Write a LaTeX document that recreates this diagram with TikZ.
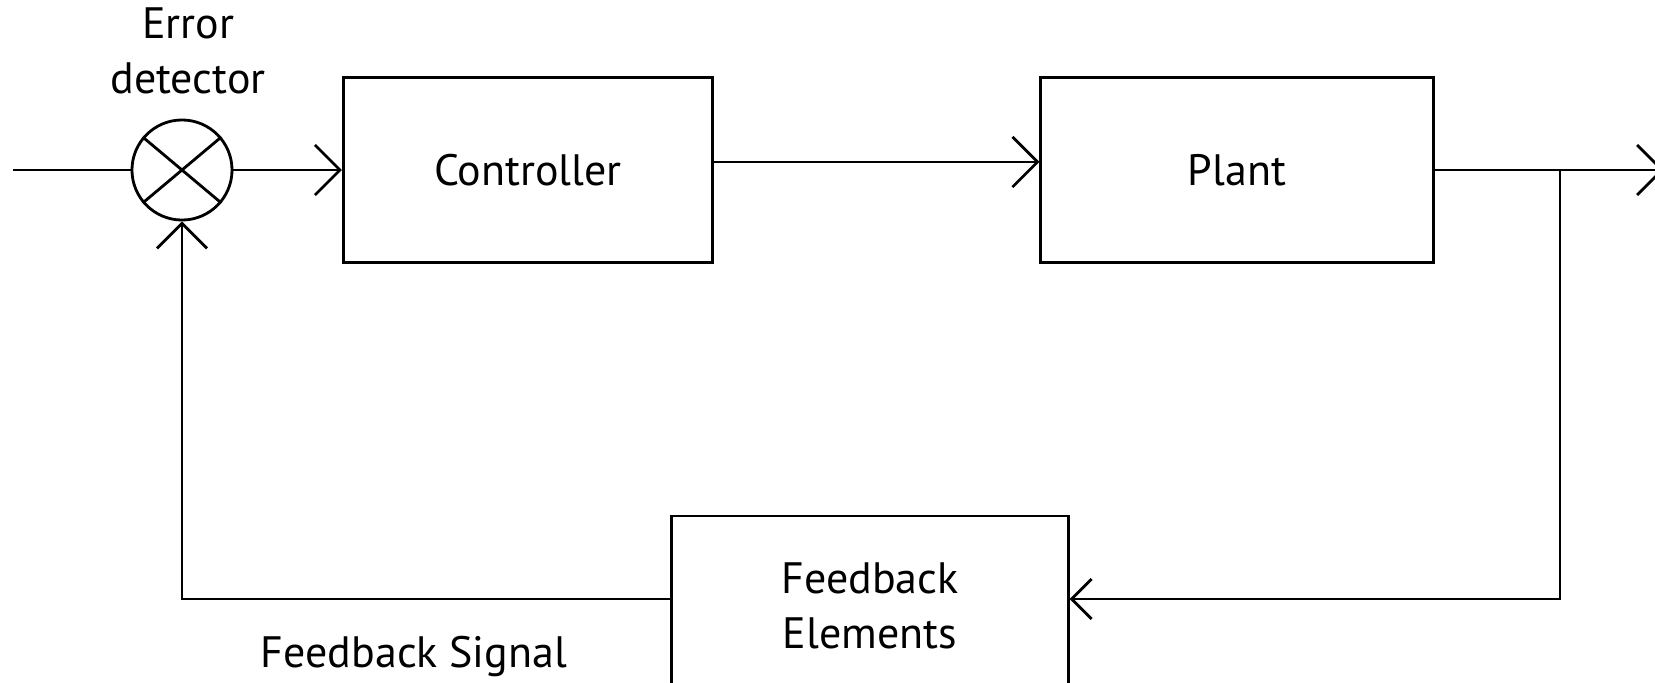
\documentclass[tikz,border=0pt]{standalone}
\usepackage{fontspec}
\setmainfont{PT Sans}
\usepackage{tikz}
\usetikzlibrary{arrows.meta}

\begin{document}
\begin{tikzpicture}[x=0.01cm, y=-0.01cm, line width=0.8pt,
  every node/.style={font=\fontsize{12.5}{15.8}\selectfont},
  block/.style={draw=black, rectangle, inner sep=0pt},
  arr/.style={-{Straight Barb[length=0.25cm, width=0.5cm, line width=0.8pt]}},
  arrsmall/.style={-{Straight Barb[length=0.2cm, width=0.4cm, line width=0.8pt]}}]
\useasboundingbox (0,0) rectangle (1655,682);
% Forward path
\node[circle, draw=black, minimum size=1.0cm, inner sep=0pt] (sum) at (182,170) {};
\draw (sum.140) -- (sum.-40);
\draw (sum.40) -- (sum.-140);
\node[align=center] (errlabel) at (188,51) {Error\\detector};
\coordinate (input) at (13,170);
\node[block, minimum width=3.69cm, minimum height=1.85cm] (ctrl) at (528,170) {Controller};
\node[block, minimum width=3.92cm, minimum height=1.85cm] (plant) at (1237,170) {Plant};
\coordinate (branch) at (1560,170);
\coordinate (output) at (1664,170);
\draw (input) -- (sum);
\draw[arr] (sum) -- (ctrl.west);
\draw[arr] ([yshift=0.08cm]ctrl.east) -- ([yshift=0.08cm]plant.west);
\draw[arr] (plant.east) -- (output);
% Feedback path
\node[block, align=center, minimum width=3.96cm, minimum height=1.8cm] (fb) at (870,606) {Feedback\\Elements};
\node (fblabel) at (414,657) {Feedback Signal};
\draw[arrsmall] (branch) |- ([yshift=0.07cm]fb.east);
\draw[arr] ([yshift=0.07cm]fb.west) -| (sum.south);
\end{tikzpicture}
\end{document}
